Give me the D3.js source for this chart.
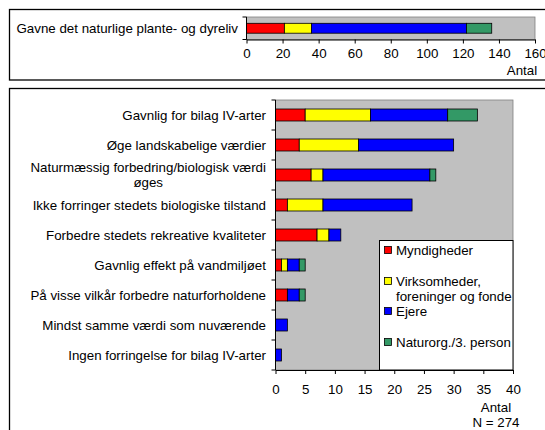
<!DOCTYPE html>
<html>
<head>
<meta charset="utf-8">
<script src="https://cdn.jsdelivr.net/npm/d3@7"></script>
<style>
  body { margin: 0; background: #fff; }
  svg { display: block; font-family: "Liberation Sans", Arial, sans-serif; }
</style>
</head>
<body>
<div id="chart"></div>
<script>
// series names + colours
let seriesNames = ["Myndigheder", "Virksomheder, foreninger og fonde", "Ejere", "Naturorg./3. person"];
let seriesColors = ["#ff0000", "#ffff00", "#0000ff", "#339966"];

// top panel (one category)
let topCategories = ["Gavne det naturlige plante- og dyreliv"];
let topMyndigheder = [21];
let topVirksomheder = [15];
let topEjere = [86];
let topNaturorg = [14];
let topTicks = [0, 20, 40, 60, 80, 100, 120, 140, 160];

// bottom panel
let categories = [
    "Gavnlig for bilag IV-arter",
    "Øge landskabelige værdier",
    "Naturmæssig forbedring/biologisk værdi|øges",
    "Ikke forringer stedets biologiske tilstand",
    "Forbedre stedets rekreative kvaliteter",
    "Gavnlig effekt på vandmiljøet",
    "På visse vilkår forbedre naturforholdene",
    "Mindst samme værdi som nuværende",
    "Ingen forringelse for bilag IV-arter"
];
let myndigheder = [5, 4, 6, 2, 7, 1, 2, 0, 0];
let virksomheder = [11, 10, 2, 6, 2, 1, 0, 0, 0];
let ejere = [13, 16, 18, 15, 2, 2, 2, 2, 1];
let naturorg = [5, 0, 1, 0, 0, 1, 1, 0, 0];
let bottomTicks = [0, 5, 10, 15, 20, 25, 30, 35, 40];

let width = 545, height = 430, fontSize = 13.33;

let svg = d3.select("#chart").append("svg")
    .attr("width", width)
    .attr("height", height);

// outer frames
svg.append("rect")
    .attr("x", 9.5).attr("y", 9.5)
    .attr("width", 545).attr("height", 70.5)
    .attr("fill", "none").attr("stroke", "#000").attr("stroke-width", 1.3);

svg.append("rect")
    .attr("x", 9.5).attr("y", 88.5)
    .attr("width", 545).attr("height", 350)
    .attr("fill", "none").attr("stroke", "#000").attr("stroke-width", 1.3);

let keys = ["m", "v", "e", "n"];

function rows(cats, a, b, c, d) {
    return cats.map(function(cat, i) {
        return { cat: cat, m: a[i], v: b[i], e: c[i], n: d[i] };
    });
}

function drawPanel(opts) {
    let data = rows(opts.cats, opts.a, opts.b, opts.c, opts.d);
    let stack = d3.stack().keys(keys)(data);

    let x = d3.scaleLinear().domain(opts.domain).range([opts.left, opts.right]);
    let y = d3.scaleBand().domain(opts.cats).range([opts.top, opts.bottom]).paddingInner(opts.pad).paddingOuter(opts.pad / 2);

    let g = svg.append("g");

    g.append("rect")
        .attr("x", opts.left).attr("y", opts.top)
        .attr("width", opts.right - opts.left).attr("height", opts.bottom - opts.top)
        .attr("fill", "#c0c0c0")
        .attr("stroke", "#808080").attr("stroke-width", 0.8);

    g.selectAll(".layer")
        .data(stack)
        .enter().append("g")
        .attr("fill", function(d, i) { return seriesColors[i]; })
        .selectAll("rect")
        .data(function(d) { return d; })
        .enter().append("rect")
        .filter(function(d) { return d[1] - d[0] > 0; })
        .attr("x", function(d) { return x(d[0]); })
        .attr("y", function(d) { return y(d.data.cat); })
        .attr("width", function(d) { return x(d[1]) - x(d[0]); })
        .attr("height", y.bandwidth())
        .attr("stroke", "#000").attr("stroke-width", 0.8);

    // x axis
    let xAxis = g.append("g")
        .attr("transform", "translate(0," + opts.bottom + ")")
        .call(d3.axisBottom(x).tickValues(opts.ticks).tickSize(4).tickSizeOuter(0).tickPadding(opts.tickPad));
    xAxis.select(".domain").attr("stroke", "#000");
    xAxis.selectAll("text").attr("font-size", fontSize).attr("fill", "#000").attr("font-family", null);

    // y axis: line plus ticks at band edges
    let edges = opts.cats.map(function(c) { return y(c) - y.step() * y.paddingInner() / 2; });
    edges.push(opts.bottom);
    g.append("line")
        .attr("x1", opts.left).attr("x2", opts.left)
        .attr("y1", opts.top).attr("y2", opts.bottom)
        .attr("stroke", "#000");
    g.selectAll(".ytick")
        .data(edges)
        .enter().append("line")
        .attr("x1", opts.left - 4).attr("x2", opts.left)
        .attr("y1", function(d) { return d; }).attr("y2", function(d) { return d; })
        .attr("stroke", "#000");

    // category labels (a "|" splits a label over two centred lines)
    opts.cats.forEach(function(c) {
        let lines = c.split("|");
        let cy = y(c) + y.bandwidth() / 2;
        let t = g.append("text")
            .attr("font-size", fontSize)
            .attr("fill", "#000");
        if (lines.length === 1) {
            t.attr("x", opts.labelRight).attr("y", cy).attr("dy", "0.35em")
                .attr("text-anchor", "end").text(c);
        } else {
            let first = t.append("tspan").attr("y", cy - 7.5).attr("dy", "0.35em").text(lines[0]);
            let w = first.node().getComputedTextLength();
            let cx = opts.labelRight - w / 2;
            t.attr("text-anchor", "middle");
            first.attr("x", cx);
            t.append("tspan").attr("x", cx).attr("y", cy + 7.5).attr("dy", "0.35em").text(lines[1]);
        }
    });

    return { x: x, y: y };
}

// top panel
drawPanel({
    cats: topCategories, a: topMyndigheder, b: topVirksomheder, c: topEjere, d: topNaturorg,
    domain: [0, 160], ticks: topTicks,
    left: 246.5, right: 535, top: 17, bottom: 39.5,
    pad: 0.56, tickPad: 5, labelRight: 238
});

svg.append("text")
    .attr("x", 522).attr("y", 70).attr("dy", "0.35em")
    .attr("text-anchor", "middle").attr("font-size", fontSize)
    .text("Antal");

// bottom panel
drawPanel({
    cats: categories, a: myndigheder, b: virksomheder, c: ejere, d: naturorg,
    domain: [0, 40], ticks: bottomTicks,
    left: 275.5, right: 513, top: 100, bottom: 370,
    pad: 0.6, tickPad: 11, labelRight: 266
});

svg.append("text")
    .attr("x", 496).attr("y", 407).attr("dy", "0.35em")
    .attr("text-anchor", "middle").attr("font-size", fontSize)
    .text("Antal");
svg.append("text")
    .attr("x", 496).attr("y", 422).attr("dy", "0.35em")
    .attr("text-anchor", "middle").attr("font-size", fontSize)
    .text("N = 274");

// legend
let legend = svg.append("g");
legend.append("rect")
    .attr("x", 379.5).attr("y", 240.5)
    .attr("width", 133.5).attr("height", 129.5)
    .attr("fill", "#fff").attr("stroke", "#000").attr("stroke-width", 1);

let legendY = [250, 281, 311, 342];
seriesNames.forEach(function(name, i) {
    legend.append("rect")
        .attr("x", 384.5).attr("y", legendY[i] - 3.5)
        .attr("width", 7).attr("height", 7)
        .attr("fill", seriesColors[i]).attr("stroke", "#000").attr("stroke-width", 0.8);
    let lines = i === 1 ? ["Virksomheder,", "foreninger og fonde"] : [name];
    let t = legend.append("text")
        .attr("font-size", fontSize);
    lines.forEach(function(l, j) {
        t.append("tspan")
            .attr("x", 396).attr("y", legendY[i] + j * 15).attr("dy", "0.35em")
            .text(l);
    });
});
</script>
</body>
</html>
